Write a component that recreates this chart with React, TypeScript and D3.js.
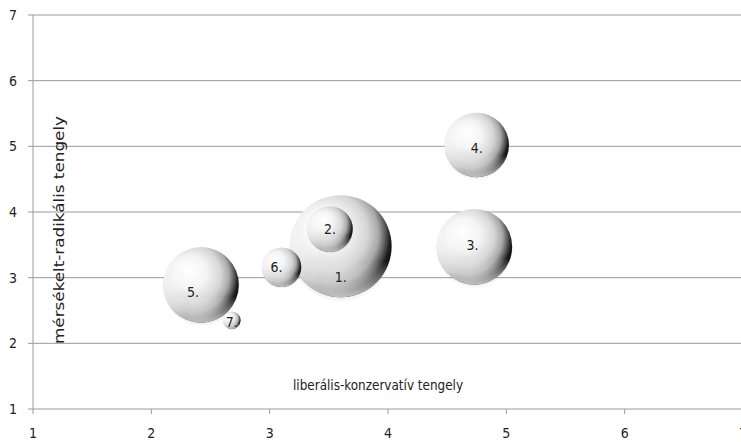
import React from "react";
import * as d3 from "d3";

const labels = ["1.", "2.", "3.", "4.", "5.", "6.", "7."];
const xValues = [3.6, 3.51, 4.73, 4.75, 2.42, 3.1, 2.68];
const yValues = [3.48, 3.74, 3.47, 5.02, 2.89, 3.16, 2.35];
const sizes = [100, 20, 55, 40, 55, 15, 3];
const xTicks = [1, 2, 3, 4, 5, 6, 7];
const yTicks = [1, 2, 3, 4, 5, 6, 7];
const xTitle = "liberális-konzervatív tengely";
const yTitle = "mérsékelt-radikális tengely";

// label placement tweaks (pixels)
const labelShift: Record<string, [number, number]> = {
  "1.": [0, 31],
  "5.": [-8, 7],
  "6.": [-5, 0],
  "7.": [0, 2],
  "4.": [0, 3],
  "3.": [-2, -2],
};

const W = 741;
const H = 442;
const FONT = "'DejaVu Sans Condensed', 'Liberation Sans Narrow', Arial, sans-serif";

export default function App() {
  const x = d3.scaleLinear().domain([1, 7]).range([33, 743]);
  const y = d3.scaleLinear().domain([1, 7]).range([409, 15]);
  const r = d3.scaleSqrt().domain([0, 100]).range([0, 51]);

  const data = labels.map((l, i) => ({ l, x: xValues[i], y: yValues[i], s: sizes[i] }));
  const order = [...data].sort((a, b) => b.s - a.s);

  return (
    <svg
      width={W}
      height={H}
      style={{ position: "absolute", left: 0, top: 0, display: "block", background: "#fff" }}
    >
      <defs>
        <radialGradient id="ball" cx="0.4" cy="0.4" r="0.62" fx="0.34" fy="0.3">
          <stop offset="0" stopColor="#ffffff" />
          <stop offset="0.35" stopColor="#f4f4f4" />
          <stop offset="0.62" stopColor="#d6d6d6" />
          <stop offset="0.78" stopColor="#a8a8a8" />
          <stop offset="0.88" stopColor="#5a5a5a" />
          <stop offset="0.95" stopColor="#1e1e1e" />
          <stop offset="1" stopColor="#111" />
        </radialGradient>
        <linearGradient id="rim" x1="0" y1="0" x2="0" y2="1">
          <stop offset="0.65" stopColor="#ffffff" stopOpacity="0" />
          <stop offset="1" stopColor="#e0e0e0" stopOpacity="0.85" />
        </linearGradient>
        <linearGradient id="leftlight" x1="0" y1="0" x2="1" y2="0">
          <stop offset="0" stopColor="#ffffff" stopOpacity="0.7" />
          <stop offset="0.3" stopColor="#ffffff" stopOpacity="0" />
        </linearGradient>
        <radialGradient id="shadow" cx="0.5" cy="0.5" r="0.5">
          <stop offset="0.7" stopColor="#000" stopOpacity="0.2" />
          <stop offset="1" stopColor="#000" stopOpacity="0" />
        </radialGradient>
      </defs>

      {yTicks.map((t) => (
        <line key={"g" + t} x1={28} x2={W} y1={y(t)} y2={y(t)} stroke="#9a9a9a" strokeWidth={1} />
      ))}
      <line x1={x(1)} x2={x(1)} y1={y(7)} y2={y(1)} stroke="#9a9a9a" strokeWidth={1} />
      {xTicks.map((t) => (
        <line key={"xt" + t} x1={x(t)} x2={x(t)} y1={y(1)} y2={y(1) + 5} stroke="#9a9a9a" />
      ))}
      {yTicks.map((t) => (
        <text key={"yl" + t} x={17} y={y(t)} dy="0.35em" textAnchor="end" fontFamily={FONT} fontSize={14} fill="#222">
          {t}
        </text>
      ))}
      {xTicks.map((t) => (
        <text key={"xl" + t} x={x(t)} y={438} textAnchor="middle" fontFamily={FONT} fontSize={14} fill="#222">
          {t}
        </text>
      ))}

      <text
        x={378}
        y={390}
        textAnchor="middle"
        fontFamily={FONT}
        fontSize={14}
        fill="#222"
        textLength={170}
        lengthAdjust="spacingAndGlyphs"
      >
        {xTitle}
      </text>
      <text
        transform={`translate(64,230) rotate(-90)`}
        textAnchor="middle"
        fontFamily={FONT}
        fontSize={14}
        fill="#222"
        textLength={228}
        lengthAdjust="spacingAndGlyphs"
      >
        {yTitle}
      </text>

      {order.map((d) => {
        const cx = x(d.x);
        const cy = y(d.y);
        const rr = r(d.s);
        return (
          <g key={"b" + d.l}>
            <ellipse cx={cx} cy={cy + rr * 0.1} rx={rr * 1.02} ry={rr * 1.0} fill="url(#shadow)" />
            <circle cx={cx} cy={cy} r={rr} fill="url(#ball)" />
            <circle cx={cx} cy={cy} r={rr} fill="url(#leftlight)" />
            <circle cx={cx} cy={cy} r={rr} fill="url(#rim)" />
          </g>
        );
      })}
      {order.map((d) => {
        const sh = labelShift[d.l] || [0, 0];
        return (
          <text
            key={"t" + d.l}
            x={x(d.x) + sh[0]}
            y={y(d.y) + sh[1]}
            dy="0.35em"
            textAnchor="middle"
            fontFamily={FONT}
            fontSize={14}
            fill="#222"
          >
            {d.l}
          </text>
        );
      })}
    </svg>
  );
}
